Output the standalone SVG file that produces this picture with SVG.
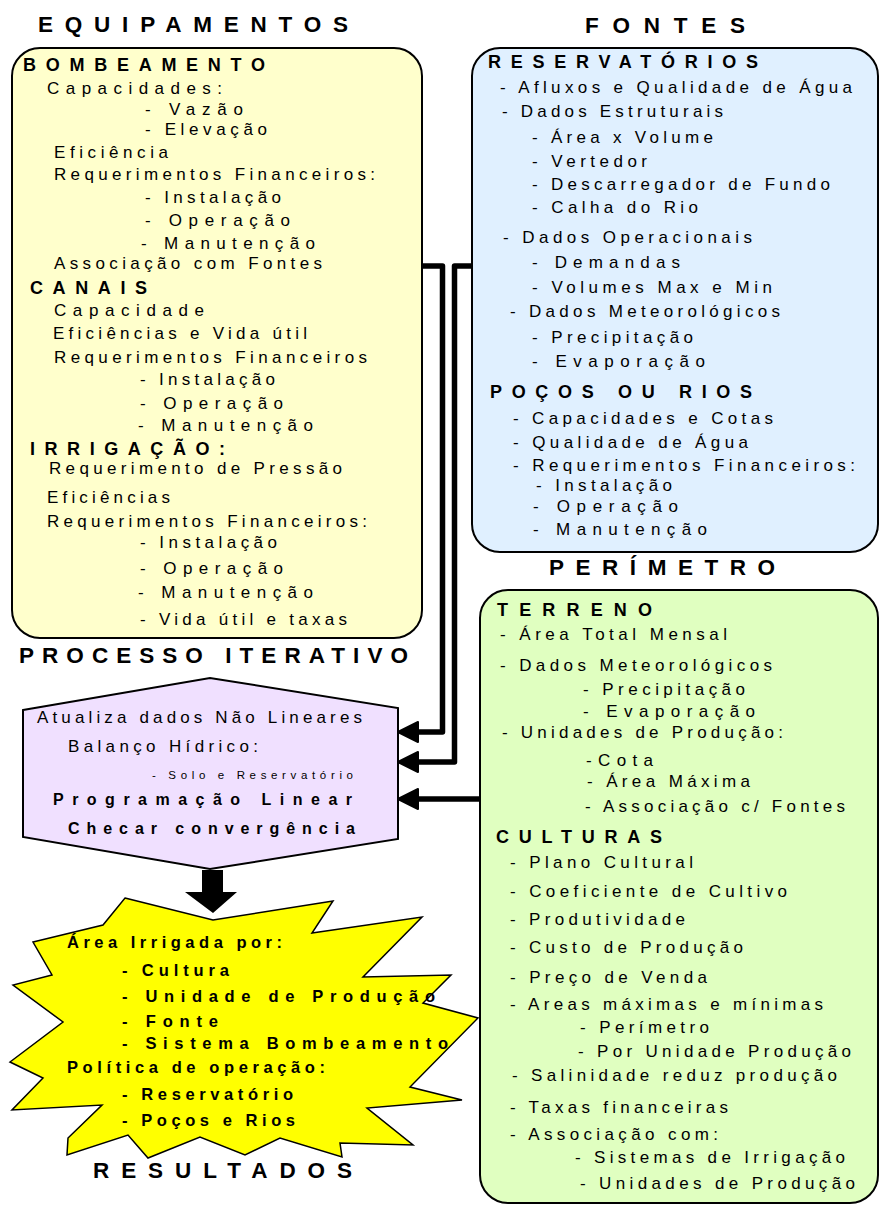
<svg xmlns="http://www.w3.org/2000/svg" width="880" height="1206" viewBox="0 0 880 1206">
<style>
text{font-family:"Liberation Sans",Arial,sans-serif;fill:#000}
.t{font-size:22.5px;font-weight:bold}
.h{font-size:18px;font-weight:bold}
.b{font-size:17px}
.s{font-size:11.5px}
.pb{font-size:16px;font-weight:bold}
.rb{font-size:16.5px;font-weight:bold}
.box{stroke:#000;stroke-width:2}
.conn{fill:none;stroke:#000;stroke-width:5.5;stroke-linejoin:round}
</style>
<defs>
<marker id="ah" markerUnits="userSpaceOnUse" markerWidth="24" markerHeight="24" refX="7" refY="11" orient="auto">
<path d="M1,1 L21,11 L1,21 Z" fill="#000" stroke="#000" stroke-width="2" stroke-linejoin="round"/>
</marker>
</defs>
<rect width="880" height="1206" fill="#fff"/>

<g id="equipamentos">
<text class="t" x="38" y="32" textLength="310">EQUIPAMENTOS</text>
<rect class="box" x="12" y="48" width="410" height="590" rx="28" fill="#FFFFCC"/>
<text class="h" x="23" y="71" textLength="242">BOMBEAMENTO</text>
<text class="b" x="47" y="94" textLength="175">Capacidades:</text>
<text class="b" x="145" y="115" textLength="98">- Vazão</text>
<text class="b" x="145" y="135" textLength="122">- Elevação</text>
<text class="b" x="54" y="158" textLength="114">Eficiência</text>
<text class="b" x="54" y="180" textLength="321">Requerimentos Financeiros:</text>
<text class="b" x="145" y="203" textLength="136">- Instalação</text>
<text class="b" x="145" y="226" textLength="145">- Operação</text>
<text class="b" x="141" y="249" textLength="174">- Manutenção</text>
<text class="b" x="54" y="269" textLength="268">Associação com Fontes</text>
<text class="h" x="30" y="294" textLength="117">CANAIS</text>
<text class="b" x="54" y="316" textLength="150">Capacidade</text>
<text class="b" x="53" y="339" textLength="254">Eficiências e Vida útil</text>
<text class="b" x="54" y="363" textLength="313">Requerimentos Financeiros</text>
<text class="b" x="140" y="385" textLength="135">- Instalação</text>
<text class="b" x="140" y="409" textLength="143">- Operação</text>
<text class="b" x="138" y="431" textLength="175">- Manutenção</text>
<text class="h" x="30" y="455" textLength="195">IRRIGAÇÃO:</text>
<text class="b" x="49" y="474" textLength="293">Requerimento de Pressão</text>
<text class="b" x="47" y="503" textLength="123">Eficiências</text>
<text class="b" x="47" y="527" textLength="320">Requerimentos Financeiros:</text>
<text class="b" x="140" y="548" textLength="137">- Instalação</text>
<text class="b" x="140" y="574" textLength="143">- Operação</text>
<text class="b" x="138" y="598" textLength="175">- Manutenção</text>
<text class="b" x="140" y="625" textLength="207">- Vida útil e taxas</text>
</g>

<g id="fontes">
<text class="t" x="585" y="33" textLength="160">FONTES</text>
<rect class="box" x="472" y="48" width="406" height="504" rx="28" fill="#E0F0FF"/>
<text class="h" x="488" y="68" textLength="270">RESERVATÓRIOS</text>
<text class="b" x="500" y="93" textLength="352">- Afluxos e Qualidade de Água</text>
<text class="b" x="502" y="117" textLength="221">- Dados Estruturais</text>
<text class="b" x="532" y="143" textLength="181">- Área x Volume</text>
<text class="b" x="532" y="167" textLength="115">- Vertedor</text>
<text class="b" x="532" y="190" textLength="298">- Descarregador de Fundo</text>
<text class="b" x="532" y="213" textLength="166">- Calha do Rio</text>
<text class="b" x="503" y="243" textLength="249">- Dados Operacionais</text>
<text class="b" x="532" y="268" textLength="148">- Demandas</text>
<text class="b" x="532" y="293" textLength="240">- Volumes Max e Min</text>
<text class="b" x="510" y="317" textLength="270">- Dados Meteorológicos</text>
<text class="b" x="532" y="343" textLength="161">- Precipitação</text>
<text class="b" x="532" y="367" textLength="173">- Evaporação</text>
<text class="h" x="490" y="398" textLength="262">POÇOS OU RIOS</text>
<text class="b" x="513" y="424" textLength="260">- Capacidades e Cotas</text>
<text class="b" x="513" y="448" textLength="235">- Qualidade de Água</text>
<text class="b" x="513" y="471" textLength="342">- Requerimentos Financeiros:</text>
<text class="b" x="536" y="491" textLength="136">- Instalação</text>
<text class="b" x="533" y="512" textLength="145">- Operação</text>
<text class="b" x="533" y="535" textLength="174">- Manutenção</text>
</g>

<g id="perimetro">
<text class="t" x="549" y="575" textLength="226">PERÍMETRO</text>
<rect class="box" x="480" y="590" width="398" height="613" rx="28" fill="#E0FFC0"/>
<text class="h" x="497" y="616" textLength="155">TERRENO</text>
<text class="b" x="500" y="640" textLength="227">- Área Total Mensal</text>
<text class="b" x="500" y="671" textLength="272">- Dados Meteorológicos</text>
<text class="b" x="583" y="695" textLength="162">- Precipitação</text>
<text class="b" x="583" y="717" textLength="172">- Evaporação</text>
<text class="b" x="502" y="738" textLength="281">- Unidades de Produção:</text>
<text class="b" x="586" y="766" textLength="67">-Cota</text>
<text class="b" x="587" y="787" textLength="163">- Área Máxima</text>
<text class="b" x="585" y="812" textLength="260">- Associação c/ Fontes</text>
<text class="h" x="496" y="843" textLength="166">CULTURAS</text>
<text class="b" x="510" y="868" textLength="183">- Plano Cultural</text>
<text class="b" x="510" y="897" textLength="277">- Coeficiente de Cultivo</text>
<text class="b" x="510" y="925" textLength="175">- Produtividade</text>
<text class="b" x="510" y="953" textLength="233">- Custo de Produção</text>
<text class="b" x="510" y="983" textLength="197">- Preço de Venda</text>
<text class="b" x="510" y="1010" textLength="313">- Areas máximas e mínimas</text>
<text class="b" x="580" y="1033" textLength="129">- Perímetro</text>
<text class="b" x="578" y="1057" textLength="273">- Por Unidade Produção</text>
<text class="b" x="512" y="1081" textLength="325">- Salinidade reduz produção</text>
<text class="b" x="510" y="1113" textLength="218">- Taxas financeiras</text>
<text class="b" x="510" y="1140" textLength="208">- Associação com:</text>
<text class="b" x="575" y="1163" textLength="270">- Sistemas de Irrigação</text>
<text class="b" x="580" y="1189" textLength="275">- Unidades de Produção</text>
</g>

<g id="processo">
<text class="t" x="19" y="663" textLength="389">PROCESSO ITERATIVO</text>
<polygon class="box" stroke-width="1.5" points="23,710 210,678 398,708 398,839 210,869 23,837" fill="#F0E0FF"/>
<text class="b" x="37" y="723" textLength="325">Atualiza dados Não Lineares</text>
<text class="b" x="68" y="752" textLength="190">Balanço Hídrico:</text>
<text class="s" x="152" y="779" textLength="201">- Solo e Reservatório</text>
<text class="pb" x="53" y="805" textLength="299">Programação Linear</text>
<text class="pb" x="68" y="834" textLength="287">Checar convergência</text>
</g>

<g id="fluxo">
<polygon points="202,870 223,870 223,892 237,892 213,913 185,892 202,892" fill="#000"/>
</g>

<g id="resultados">
<polygon points="125,898 213,920 333,901 312,933 422,917 363,977 451,975 423,1003 478,1018 410,1087 462,1100 367,1108 413,1145 340,1143 342,1157 280,1138 245,1155 200,1137 148,1158 128,1135 67,1155 68,1138 102,1105 12,1110 43,1078 10,1062 63,1022 13,985 52,975 33,942 103,925" fill="#FFFF00" stroke="#000" stroke-width="1.5" stroke-linejoin="miter"/>
<text class="rb" x="67" y="948" textLength="215">Área Irrigada por:</text>
<text class="rb" x="122" y="976" textLength="107">- Cultura</text>
<text class="rb" x="122" y="1002" textLength="313">- Unidade de Produção</text>
<text class="rb" x="122" y="1027" textLength="96">- Fonte</text>
<text class="rb" x="122" y="1049" textLength="326">- Sistema Bombeamento</text>
<text class="rb" x="67" y="1073" textLength="258">Política de operação:</text>
<text class="rb" x="122" y="1100" textLength="171">- Reservatório</text>
<text class="rb" x="122" y="1126" textLength="173">- Poços e Rios</text>
<text class="t" x="93" y="1178" textLength="259">RESULTADOS</text>
</g>

<g id="connectors">
<path class="conn" d="M422,266 H442.5 V732 H412" marker-end="url(#ah)"/>
<path class="conn" d="M473,266 H454.5 V762 H412" marker-end="url(#ah)"/>
<path class="conn" d="M479,799 H412" marker-end="url(#ah)"/>
</g>
</svg>
